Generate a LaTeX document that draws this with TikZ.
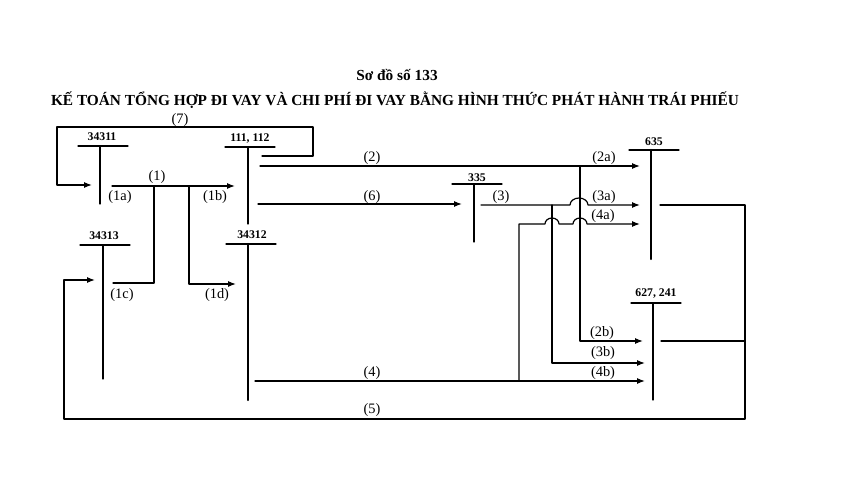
\documentclass[tikz,border=0pt]{standalone}
\usepackage{fontspec}
\setmainfont{Liberation Serif}
\usetikzlibrary{arrows.meta}
\begin{document}
\begin{tikzpicture}[line cap=round,line join=round,>={Latex[length=6pt,width=4.5pt]},x=0.75pt,y=-0.75pt,
	acct/.style={font=\bfseries\fontsize{8.8}{10}\selectfont,inner sep=1pt},
	lbl/.style={font=\fontsize{10.8}{12}\selectfont,inner sep=1pt},
	tline/.style={line width=0.9pt},
	tbold/.style={line width=1.8pt},
	flow/.style={line width=0.9pt}]
	\useasboundingbox (0,0) rectangle (864,477);
	\node[font=\bfseries\fontsize{11.5}{13}\selectfont] (sodo) at (397,75) {Sơ đồ số 133};
	\node[font=\bfseries\fontsize{11.5}{13}\selectfont] (tieude) at (395,100) {KẾ TOÁN TỔNG HỢP ĐI VAY VÀ CHI PHÍ ĐI VAY BẰNG HÌNH THỨC PHÁT HÀNH TRÁI PHIẾU};
	% tai khoan
	\node[acct] (tk34311) at (102,137) {34311};
	\draw[tline] (78,146)--(128,146);
	\draw[tline] (100,146)--(100,204);
	\node[acct] (tk34313) at (104,236) {34313};
	\draw[tline] (80,245)--(130,245);
	\draw[tline] (103,245)--(103,379);
	\node[acct] (tk111) at (250,139) {111, 112};
	\draw[tline] (225,147)--(275,147);
	\draw[tline] (248,147)--(248,224);
	\node[acct] (tk34312) at (252,235) {34312};
	\draw[tline] (226,244)--(276,244);
	\draw[tbold] (248,244)--(248,400);
	\node[acct] (tk335) at (477,178) {335};
	\draw[tline] (452,184)--(502,184);
	\draw[tline] (474,184)--(474,242);
	\node[acct] (tk635) at (654,142) {635};
	\draw[tline] (629,150)--(679,150);
	\draw[tbold] (651,150)--(651,259);
	\node[acct] (tk627) at (656,294) {627, 241};
	\draw[tline] (631,303)--(681,303);
	\draw[tline] (653,303)--(653,400);
	% diem dau, diem cuoi
	\coordinate (s7) at (262,156);
	\coordinate (e7) at (92,185);
	\coordinate (s1) at (112,186);
	\coordinate (e1b) at (235,186);
	\coordinate (e1c) at (113,283);
	\coordinate (e1d) at (236,284);
	\coordinate (s2) at (260,166);
	\coordinate (e2a) at (640,166);
	\coordinate (e2b) at (643,341);
	\coordinate (s6) at (258,204);
	\coordinate (e6) at (462,204);
	\coordinate (s3) at (481,205);
	\coordinate (e3a) at (640,205);
	\coordinate (e3b) at (645,363);
	\coordinate (s4) at (255,381);
	\coordinate (e4a) at (640,224);
	\coordinate (e4b) at (645,381);
	\coordinate (s5a) at (660,205);
	\coordinate (s5b) at (661,341);
	\coordinate (e5) at (95,280);
	% but toan
	\draw[flow,->] (s7) -| (313,127) -| (57,185) -- (e7);
	\draw[flow,->] (s1) -- (e1b);
	\draw[flow] (154,186) |- (e1c);
	\draw[flow,->] (189,186) |- (e1d);
	\draw[flow,->] (s2) -- (e2a);
	\draw[flow,->] (580,166) |- (e2b);
	\draw[flow,->] (s6) -- (e6);
	\draw[flow,->] (s3) -- (570,205) arc[start angle=180,end angle=360,x radius=9,y radius=7] -- (e3a);
	\draw[flow,->] (552,205) |- (e3b);
	\draw[flow,->] (s4) -- (e4b);
	\draw[flow,->] (519,381) |- (545,224) arc[start angle=180,end angle=360,x radius=7,y radius=6] -- (573,224) arc[start angle=180,end angle=360,x radius=7,y radius=6] -- (e4a);
	\draw[flow,->] (s5a) -| (745,419) -| (64,280) -- (e5);
	\draw[flow] (s5b) -- (745,341);
	% nhan
	\draw (180,120) node[lbl]{(7)};
	\draw (157,177) node[lbl]{(1)};
	\draw (120,197) node[lbl]{(1a)};
	\draw (215,197) node[lbl]{(1b)};
	\draw (122,295) node[lbl]{(1c)};
	\draw (217,295) node[lbl]{(1d)};
	\draw (372,158) node[lbl]{(2)};
	\draw (604,158) node[lbl]{(2a)};
	\draw (372,197) node[lbl]{(6)};
	\draw (501,197) node[lbl]{(3)};
	\draw (604,197) node[lbl]{(3a)};
	\draw (603,216) node[lbl]{(4a)};
	\draw (602,333) node[lbl]{(2b)};
	\draw (603,353) node[lbl]{(3b)};
	\draw (603,373) node[lbl]{(4b)};
	\draw (372,373) node[lbl]{(4)};
	\draw (372,410) node[lbl]{(5)};
\end{tikzpicture}
\end{document}
